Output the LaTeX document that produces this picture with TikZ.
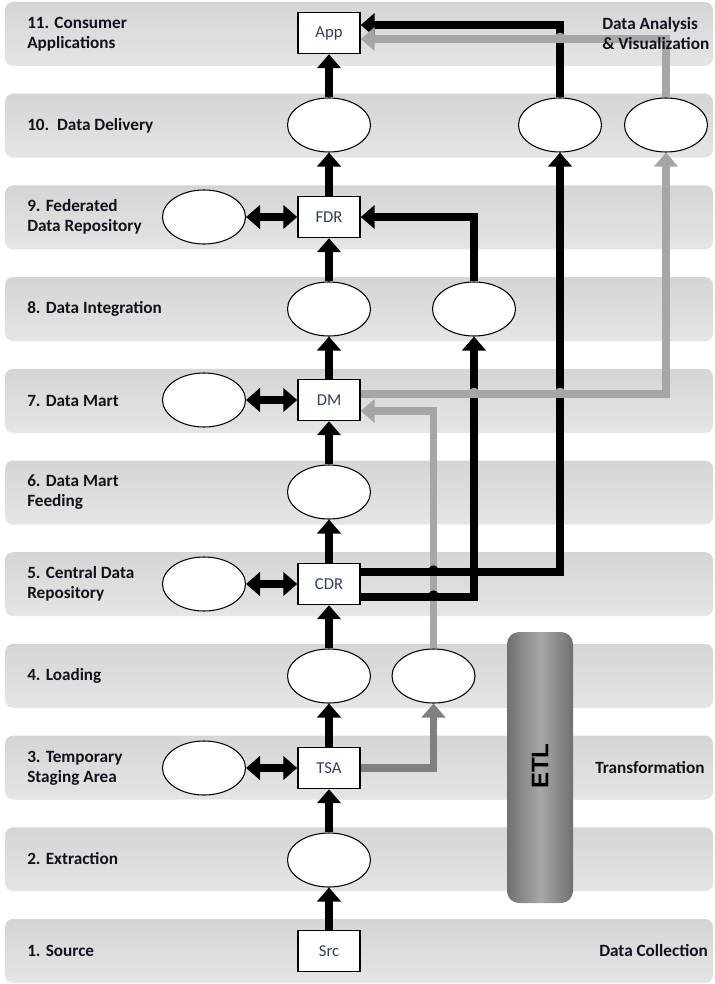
\documentclass[tikz,border=0pt]{standalone}
\usepackage{fontspec}
\setmainfont{Carlito}
\newfontfamily\etlfont{Liberation Sans}
\usetikzlibrary{arrows.meta,calc,shapes.geometric}

\definecolor{bandtop}{RGB}{213,213,213}
\definecolor{bandbot}{RGB}{229,229,229}
\definecolor{lgray}{RGB}{166,166,166}
\definecolor{dgray}{RGB}{128,128,128}
\definecolor{boxtext}{RGB}{45,65,88}
\definecolor{labeltext}{RGB}{18,18,28}
\definecolor{etlside}{RGB}{112,112,112}
\definecolor{etlmid}{RGB}{168,168,168}

\begin{document}
\begin{tikzpicture}[x=0.75pt,y=-0.75pt,
  band/.style={top color=bandtop,bottom color=bandbot,draw=none,rounded corners=6pt},
  lbl/.style={anchor=west,align=left,inner sep=0pt,text=labeltext,
    font=\fontsize{12.9}{15}\selectfont\bfseries},
  store/.style={draw=black,line width=1.1pt,fill=white,inner sep=0pt,
    minimum width=46.5pt,minimum height=30.75pt,text=boxtext,
    font=\fontsize{12.5}{14}\selectfont},
  proc/.style={ellipse,draw=black,line width=0.8pt,fill=white,inner sep=0pt,
    minimum width=62.25pt,minimum height=40.5pt},
  bigtri/.tip={Triangle[width=17.5pt,length=10.5pt]},
  blk/.style={line width=6pt,draw=black,-bigtri},
  dbl/.style={line width=6pt,draw=black,bigtri-bigtri},
  lgr/.style={line width=5.5pt,draw=lgray,-bigtri},
  dgr/.style={line width=5.5pt,draw=dgray,-bigtri},
  hopblack/.style={fill=black},
  hopgray/.style={fill=lgray},
]
\useasboundingbox (0,0) rectangle (714,984);

% horizontal layer bands
\foreach \i in {1,...,11}{
  \pgfmathsetmacro\bt{2+(11-\i)*91.7}
  \shade[band] (5,\bt) rectangle (713,\bt+64);
}

% layer names
\node[lbl] (t11) at (27,34)  {11. Consumer\\Applications};
\node[lbl] (t10) at (27,126) {10.\ \ Data Delivery};
\node[lbl] (t9)  at (27,217) {9. Federated\\Data Repository};
\node[lbl] (t8)  at (27,309) {8. Data Integration};
\node[lbl] (t7)  at (27,401) {7. Data Mart};
\node[lbl] (t6)  at (27,492) {6. Data Mart\\Feeding};
\node[lbl] (t5)  at (27,584) {5. Central Data\\Repository};
\node[lbl] (t4)  at (27,676) {4. Loading};
\node[lbl] (t3)  at (27,768) {3. Temporary\\Staging Area};
\node[lbl] (t2)  at (27,859) {2. Extraction};
\node[lbl] (t1)  at (27,951) {1. Source};

% ETL bar
\shade[left color=etlside,right color=etlside,middle color=etlmid,rounded corners=9pt]
  (507,632) rectangle (573,903);
\node[rotate=90,inner sep=0pt,font=\etlfont\fontsize{18}{20}\selectfont\bfseries] (etl) at (540,766) {ETL};

% main column
\node[store] (src) at (329,951) {Src};
\node[proc]  (e2)  at (329,860) {};
\node[store] (tsa) at (329,768) {TSA};
\node[proc]  (e4)  at (329,676) {};
\node[store] (cdr) at (329,584) {CDR};
\node[proc]  (e6)  at (329,492) {};
\node[store] (dm)  at (329,400) {DM};
\node[proc]  (e8)  at (329,309) {};
\node[store] (fdr) at (329,217) {FDR};
\node[proc]  (e10) at (329,125) {};
\node[store] (app) at (329,33)  {App};

% side processes
\node[proc] (e4b)  at (433.5,676) {};
\node[proc] (e8b)  at (474,309) {};
\node[proc] (e10b) at (560,125) {};
\node[proc] (e10c) at (666,125) {};

% left-hand stores
\node[proc] (l3) at (204,768) {};
\node[proc] (l5) at (204,584) {};
\node[proc] (l7) at (204,400) {};
\node[proc] (l9) at (204,217) {};

% main flow
\draw[blk] (src) -- (e2);
\draw[blk] (e2)  -- (tsa);
\draw[blk] (tsa) -- (e4);
\draw[blk] (e4)  -- (cdr);
\draw[blk] (cdr) -- (e6);
\draw[blk] (e6)  -- (dm);
\draw[blk] (dm)  -- (e8);
\draw[blk] (e8)  -- (fdr);
\draw[blk] (fdr) -- (e10);
\draw[blk] (e10) -- (app);

% two-way links to the left-hand stores
\draw[dbl] (l3) -- (tsa);
\draw[dbl] (l5) -- (cdr);
\draw[dbl] (l7) -- (dm);
\draw[dbl] (l9) -- (fdr);

% ports on the boxes
\coordinate (cdrhi) at ($(cdr.east)+(0,-12)$);
\coordinate (cdrlo) at ($(cdr.east)+(0,13)$);
\coordinate (dmout) at ($(dm.east)+(0,-6)$);
\coordinate (dmin)  at ($(dm.east)+(0,11)$);
\coordinate (apphi) at ($(app.east)+(0,-8)$);
\coordinate (applo) at ($(app.east)+(0,6)$);

% staging side path
\draw[dgr] (tsa.east) -| (e4b.south);
\draw[lgr] (e4b.north) |- (dmin);

% central repository outputs
\draw[blk] (cdrhi) -| (e10b.south);
\draw[blk] (cdrlo) -| (e8b.south);
\fill[hopblack] ($(e4b |- cdrhi)+(0,-1.5)$) circle[radius=3.9pt];
\fill[hopblack] ($(e4b |- cdrlo)+(0,-1.5)$) circle[radius=3.9pt];
\fill[hopblack] ($(e8b |- cdrhi)+(0,-1.5)$) circle[radius=3.9pt];
\draw[blk] (e8b.north) |- (fdr.east);

% data mart output
\draw[lgr] (dmout) -| (e10c.south);
\fill[hopgray] ($(e8b |- dmout)+(0,-1.5)$) circle[radius=3.7pt];
\fill[hopgray] ($(e10b |- dmout)+(0,-1.5)$) circle[radius=3.7pt];

% delivery to the application
\draw[blk] (e10b.north) |- (apphi);
\draw[lgr] (e10c.north) |- (applo);
\fill[hopgray] ($(e10b |- applo)+(0,-1.5)$) circle[radius=3.7pt];

% phase names on the right, set over the connectors
\node[lbl] (ra) at (602,34)  {Data Analysis\\\& Visualization};
\node[lbl] (rt) at (595,768) {Transformation};
\node[lbl] (rc) at (599,951) {Data Collection};
\end{tikzpicture}
\end{document}
